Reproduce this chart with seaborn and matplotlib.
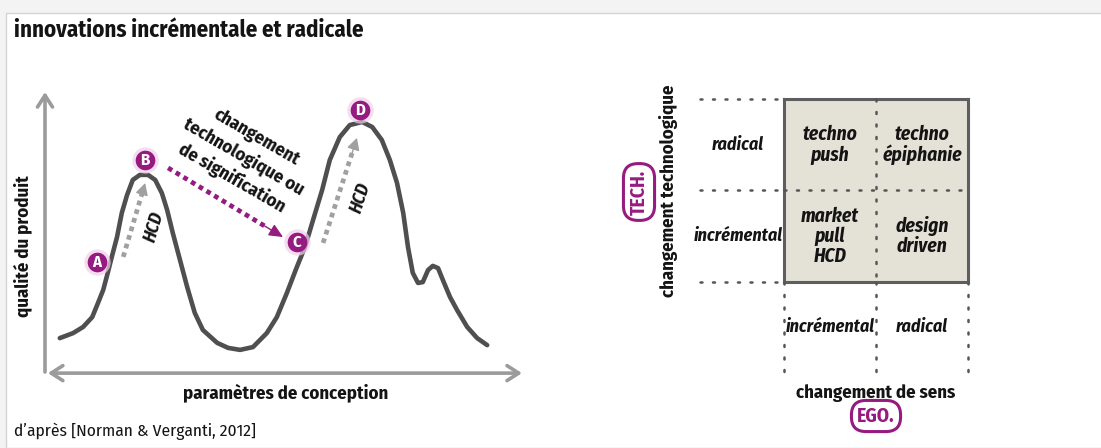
import numpy as np
import pandas as pd
import seaborn as sns
import matplotlib.pyplot as plt
from matplotlib.colors import ListedColormap
from matplotlib.patches import Rectangle

# Data read off the reference
# curve: design parameter vs product quality (arbitrary 0-10 units)
curve_x = [0.31, 0.59, 0.80, 0.99, 1.11, 1.22, 1.32, 1.40, 1.51, 1.61, 1.72, 1.84,
           1.99, 2.16, 2.31, 2.45, 2.56, 2.68, 2.83, 2.98, 3.14, 3.31, 3.61, 3.84,
           4.09, 4.36, 4.65, 4.86, 5.07, 5.28, 5.45, 5.62, 5.81, 5.97, 6.18, 6.39,
           6.65, 6.86, 7.06, 7.23, 7.38, 7.51, 7.61, 7.71, 7.82, 7.92, 8.03, 8.13,
           8.24, 8.34, 8.49, 8.64, 8.85, 9.06, 9.27]
curve_y = [1.21, 1.39, 1.61, 1.96, 2.46, 2.93, 3.57, 4.11, 4.82, 5.68, 6.32, 6.86,
           7.04, 7.04, 6.86, 6.39, 5.79, 4.96, 4.00, 3.04, 2.11, 1.50, 1.04, 0.86,
           0.79, 0.89, 1.39, 1.96, 2.82, 3.75, 4.46, 5.43, 6.50, 7.57, 8.39, 8.82,
           8.93, 8.75, 8.29, 7.57, 6.75, 5.68, 4.46, 3.54, 3.18, 3.21, 3.64, 3.79,
           3.71, 3.29, 2.68, 2.21, 1.61, 1.21, 0.96]

point_labels = ["A", "B", "C", "D"]
point_x = [1.09, 2.10, 5.28, 6.60]
point_y = [3.93, 7.57, 4.64, 9.36]

# HCD arrows (start -> end), magenta "change" arrow
hcd_start = [(1.64, 4.11), (5.83, 4.61)]
hcd_end = [(2.10, 6.75), (6.54, 8.36)]
change_start = (2.58, 7.29)
change_end = (4.99, 4.82)

# 2x2 matrix
rows = ["radical", "incrémental"]           # changement technologique
cols = ["incrémental", "radical"]           # changement de sens
cells = [["techno\npush", "techno\népiphanie"],
         ["market\npull\nHCD", "design\ndriven"]]

FONT = ["Fira Sans Condensed", "Asap Condensed", "Barlow Semi Condensed",
        "DejaVu Sans Condensed", "DejaVu Sans"]
MAGENTA = "#951b81"
GREY_AX = "#9b9b9b"
CURVE = "#4f4f51"
INK = "#141414"

sns.set_theme(style="white")
plt.rcParams["font.family"] = FONT
plt.rcParams["text.color"] = INK
plt.rcParams["axes.labelcolor"] = INK

W, H = 1101, 448
fig = plt.figure(figsize=(W / 100, H / 100), dpi=100)

# card background with soft edge
fig.patches.append(Rectangle((0, 0), 1, 1, transform=fig.transFigure,
                             color="#f3f3f3", zorder=-10))
fig.patches.append(Rectangle((6 / W, 0), 1, (H - 13) / H, transform=fig.transFigure,
                             facecolor="white", edgecolor="#d4d4d4", lw=1, zorder=-9))

fig.text(14 / W, 1 - 30 / H, "innovations incrémentale et radicale",
         fontsize=16.5, fontweight="bold", ha="left", va="center")
fig.text(14 / W, 1 - 431 / H, "d’après [Norman & Verganti, 2012]",
         fontsize=12.5, ha="left", va="center")

# ---- left panel: quality landscape
ax = fig.add_axes([45 / W, (H - 372) / H, 477 / W, 280 / H])
sns.lineplot(x=curve_x, y=curve_y, sort=False, ax=ax, color=CURVE, lw=3.3,
             solid_capstyle="round", solid_joinstyle="round")
ax.set_xlim(0, 10)
ax.set_ylim(0, 10)
ax.set_xticks([])
ax.set_yticks([])
for s in ax.spines.values():
    s.set_visible(False)
ax.set_facecolor("none")

arrow_kw = dict(arrowstyle="->,head_length=0.7,head_width=0.45", color=GREY_AX,
                lw=2.6, shrinkA=0, shrinkB=0)
ax.annotate("", xy=(0, 1.0), xytext=(0, 0.0), xycoords="axes fraction",
            arrowprops=arrow_kw, annotation_clip=False)
ax.annotate("", xy=(1.0, -0.004), xytext=(0.006, -0.004), xycoords="axes fraction",
            arrowprops=dict(arrow_kw, arrowstyle="<->,head_length=0.7,head_width=0.45"),
            annotation_clip=False)

ax.set_xlabel("paramètres de conception", fontsize=13.5, fontweight="bold")
ax.xaxis.set_label_coords(0.505, -0.075)
ax.xaxis.label.set_va("center")
ax.set_ylabel("qualité du produit", fontsize=13.5, fontweight="bold")
ax.yaxis.set_label_coords(-0.048, 0.45)
ax.yaxis.label.set_va("center")


def dotted_arrow(start, end, color, head_len):
    (x0, y0), (x1, y1) = start, end
    # shaft stops where the solid head begins
    xm, ym = x0 + 0.86 * (x1 - x0), y0 + 0.86 * (y1 - y0)
    ax.plot([x0, xm], [y0, ym], color=color, lw=3.4, linestyle=(0, (1, 0.9)),
            dash_capstyle="butt")
    xh, yh = x0 + 0.84 * (x1 - x0), y0 + 0.84 * (y1 - y0)
    ax.annotate("", xy=(x1, y1), xytext=(xh, yh),
                arrowprops=dict(arrowstyle=f"-|>,head_length={head_len},head_width=0.32",
                                color=color, lw=1, shrinkA=0, shrinkB=0))


for st, en in zip(hcd_start, hcd_end):
    dotted_arrow(st, en, "#a0a0a0", 0.6)
    (x0, y0), (x1, y1) = st, en
    ang = np.degrees(np.arctan2((y1 - y0) * 28, (x1 - x0) * 47.7))
    mx, my = (x0 + x1) / 2, (y0 + y1) / 2
    ax.text(mx + 0.42, my - 0.25, "HCD", rotation=ang, rotation_mode="anchor",
            ha="center", va="center", fontsize=13, fontweight="bold", style="italic")

dotted_arrow(change_start, change_end, MAGENTA, 0.7)
ax.text(4.17, 7.65, "changement\ntechnologique ou\nde signification", rotation=-30,
        rotation_mode="anchor", ha="center", va="center", multialignment="center",
        fontsize=13.5, fontweight="bold", linespacing=1.35)

ax.scatter(point_x, point_y, s=360, color="#f0cfe8", alpha=0.7, lw=0, zorder=4)
ax.scatter(point_x, point_y, s=200, color=MAGENTA, lw=0, zorder=5)
for lab, px, py in zip(point_labels, point_x, point_y):
    ax.text(px, py, lab, color="white", fontsize=12, fontweight="bold",
            ha="center", va="center", zorder=6)

# ---- right panel: 2x2 matrix
axm = fig.add_axes([784 / W, (H - 282) / H, 184 / W, 183 / H])
df = pd.DataFrame(np.ones((2, 2)), index=rows, columns=cols)
sns.heatmap(df, annot=np.array(cells), fmt="", cmap=ListedColormap(["#e4e2d7"]),
            cbar=False, ax=axm,
            annot_kws=dict(fontsize=14, fontweight="bold", style="italic",
                           color=INK, linespacing=1.05))
for s in axm.spines.values():
    s.set_visible(True)
    s.set_color("#5e5e60")
    s.set_linewidth(2.2)

dot_kw = dict(color="#555555", lw=1.8, linestyle=(0, (0.8, 4.2)),
              dash_capstyle="round", clip_on=False, zorder=3)
for yy in [0, 1, 2]:
    axm.plot([-0.91, 0], [yy, yy], **dot_kw)
axm.plot([0, 2], [1, 1], **dot_kw)
for xx in [0, 1, 2]:
    axm.plot([xx, xx], [2, 2.98], **dot_kw)
axm.plot([1, 1], [0, 2], **dot_kw)

axm.tick_params(length=0)
axm.set_yticklabels(rows, rotation=0, ha="center", va="center", fontsize=13,
                    fontweight="bold", style="italic", color=INK)
axm.tick_params(axis="y", pad=33)
axm.xaxis.tick_bottom()
axm.set_xticklabels(cols, rotation=0, ha="center", va="center", fontsize=13,
                    fontweight="bold", style="italic", color=INK)
axm.tick_params(axis="x", pad=32)

axm.set_xlabel("changement de sens", fontsize=13.5, fontweight="bold")
axm.xaxis.set_label_coords(0.5, -0.607)
axm.xaxis.label.set_va("center")
axm.set_ylabel("changement technologique", fontsize=13.5, fontweight="bold")
axm.yaxis.set_label_coords(-0.63, 0.5)
axm.yaxis.label.set_va("center")

badge = dict(boxstyle="round,pad=0.3,rounding_size=0.75", facecolor="white",
             edgecolor=MAGENTA, lw=2.2)
fig.text(639 / W, 1 - 192 / H, "TECH.", rotation=90, ha="center", va="center",
         color=MAGENTA, fontsize=14, fontweight="bold", bbox=badge)
fig.text(876 / W, 1 - 416 / H, "EGO.", ha="center", va="center",
         color=MAGENTA, fontsize=14, fontweight="bold", bbox=badge)

fig.savefig("out.png", dpi=100)
